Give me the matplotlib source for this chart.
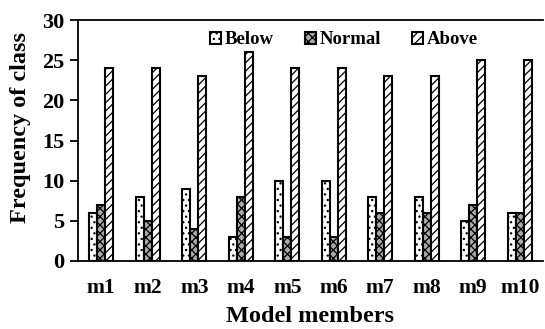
import numpy as np
import matplotlib.pyplot as plt

plt.rcParams['font.family'] = 'Liberation Serif'
plt.rcParams['font.weight'] = 'bold'
plt.rcParams['hatch.linewidth'] = 0.9

members = ['m1', 'm2', 'm3', 'm4', 'm5', 'm6', 'm7', 'm8', 'm9', 'm10']
below = [6, 8, 9, 3, 10, 10, 8, 8, 5, 6]
normal = [7, 5, 4, 8, 3, 3, 6, 6, 7, 6]
above = [24, 24, 23, 26, 24, 24, 23, 23, 25, 25]

fig = plt.figure(figsize=(5.45, 3.29), dpi=100)
ax = fig.add_axes([78/545, 1 - 261/329, 465/545, 241/329])

x = np.arange(len(members))
w = 0.17
ax.bar(x - w, below, w, color='white', edgecolor='black', hatch='...', linewidth=1.5, label='Below')
ax.bar(x, normal, w, color='#aaaaaa', edgecolor='black', hatch='xxxx', linewidth=1.5, label='Normal')
ax.bar(x + w, above, w, color='white', edgecolor='black', hatch='////', linewidth=1.5, label='Above')

ax.set_xlim(-0.5, len(members) - 0.5)
ax.set_ylim(0, 30)
ax.set_yticks(range(0, 31, 5))
ax.set_xticks(x)
ax.set_xticklabels(members)
ax.tick_params(axis='x', length=0, pad=12, labelsize=15.5)
ax.tick_params(axis='y', length=6, width=1.3, direction='out', labelsize=16, pad=4)
ax.spines['right'].set_visible(False)
for s in ['left', 'bottom', 'top']:
    ax.spines[s].set_linewidth(1.3)

ax.set_xlabel('Model members', fontsize=17.5, fontweight='bold', labelpad=6)
ax.set_ylabel('Frequency of class', fontsize=17.5, fontweight='bold')
ax.yaxis.set_label_coords(-0.1, 0.556)

ax.legend(loc='upper center', bbox_to_anchor=(0.572, 1.0), ncol=3, frameon=False,
          fontsize=13.5, handlelength=0.6, handleheight=0.6, handletextpad=0.2,
          columnspacing=1.65, borderaxespad=0.2)

fig.savefig('out.png', dpi=100)
